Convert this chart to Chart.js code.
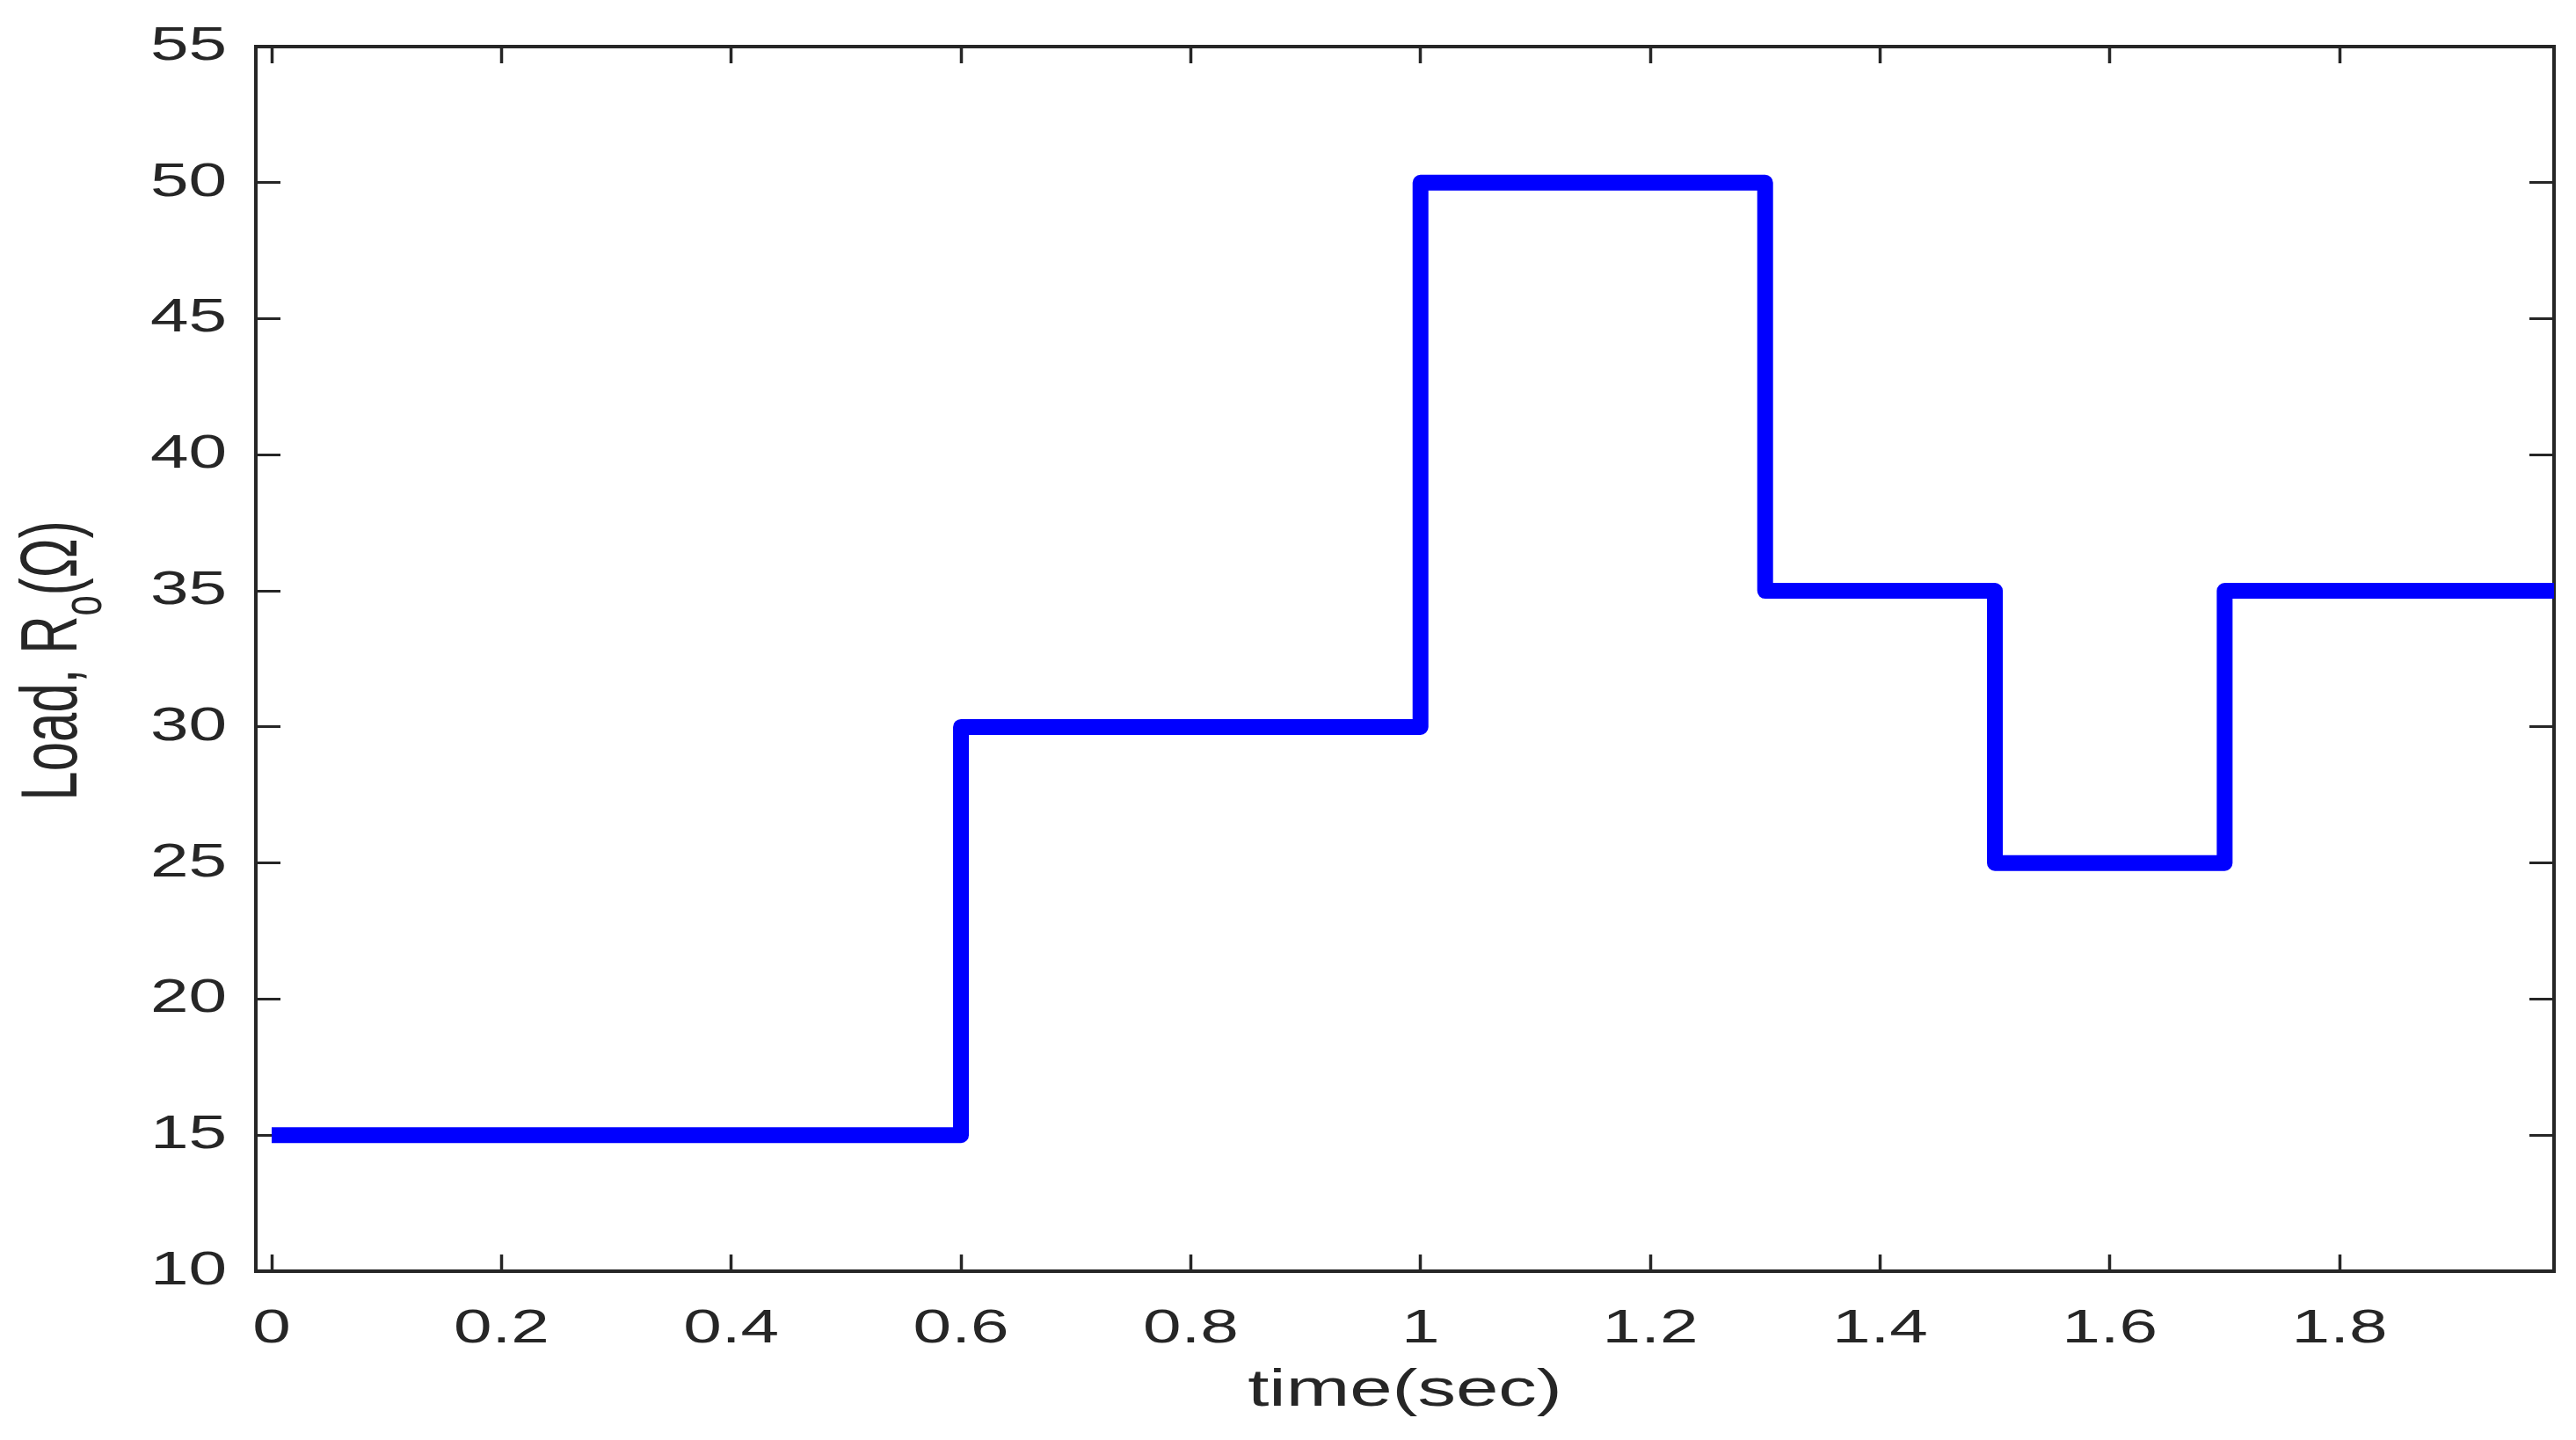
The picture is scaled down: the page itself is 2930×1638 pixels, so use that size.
<!DOCTYPE html>
<html>
<head>
<meta charset="utf-8">
<title>Load step profile</title>
<script src="https://cdn.jsdelivr.net/npm/chart.js@4.4.1/dist/chart.umd.min.js"></script>
<style>
  html, body { margin: 0; padding: 0; background: #ffffff; }
  #chart { display: block; }
</style>
</head>
<body>
<canvas id="chart" width="2930" height="1638"></canvas>
<script>
// --- data: load resistance steps ---
const switchTimes = [0, 0.6, 1.0, 1.3, 1.5, 1.7, 2.0];
const loadOhms    = [15, 30, 50, 35, 25, 35, 35];

const xTicks      = [0, 0.2, 0.4, 0.6, 0.8, 1.0, 1.2, 1.4, 1.6, 1.8];
const xTickLabels = ['0', '0.2', '0.4', '0.6', '0.8', '1', '1.2', '1.4', '1.6', '1.8'];
const yTicks      = [10, 15, 20, 25, 30, 35, 40, 45, 50, 55];
const yTickLabels = ['10', '15', '20', '25', '30', '35', '40', '45', '50', '55'];

const xLimits = [-0.0138, 1.9867];
const yLimits = [10, 55];

const INK = '#262626';
const FONT = "'Liberation Sans', Arial, Helvetica, sans-serif";
const STRETCH = 1.45;     // text in the figure is drawn wide
const Y_STRETCH = 1.5;    // rotated label is a bit wider still

Chart.defaults.font.family = FONT;
Chart.defaults.color = INK;

const canvas = document.getElementById('chart');
const ctx = canvas.getContext('2d');

// widen every glyph horizontally (screen x)
const plainFillText = ctx.fillText;
ctx.fillText = function (text, x, y) {
    this.save();
    this.translate(x, y);
    const m = this.getTransform();
    if (Math.abs(m.b) > Math.abs(m.a)) this.scale(1, STRETCH);
    else this.scale(STRETCH, 1);
    plainFillText.call(this, text, 0, 0);
    this.restore();
};

// y axis title with subscript
const yTitlePlugin = {
    id: 'yTitle',
    afterDraw(chart) {
        const c = chart.ctx;
        const area = chart.chartArea;
        const mainFont = '60px ' + FONT;
        const subFont = '42px ' + FONT;
        const parts = [
            { text: 'Load, R', font: mainFont, dy: 0 },
            { text: 'o', font: subFont, dy: 28 },
            { text: '(\u03A9)', font: mainFont, dy: 0 }
        ];
        c.save();
        let total = 0;
        parts.forEach(p => { c.font = p.font; p.w = c.measureText(p.text).width; total += p.w; });
        c.translate(87, (area.top + area.bottom) / 2 + 2);
        c.rotate(-Math.PI / 2);
        c.fillStyle = INK;
        c.textAlign = 'left';
        c.textBaseline = 'alphabetic';
        let pos = -total / 2;
        parts.forEach(p => {
            c.font = p.font;
            c.save();
            c.translate(pos, p.dy);
            c.scale(1, Y_STRETCH);
            plainFillText.call(c, p.text, 0, 0);
            c.restore();
            pos += p.w;
        });
        c.restore();
    }
};

function makeAxis(opts) {
    const horizontal = opts.position === 'top' || opts.position === 'bottom';
    return {
        type: 'linear',
        position: opts.position,
        min: opts.limits[0],
        max: opts.limits[1],
        z: 1,
        afterBuildTicks: s => { s.ticks = opts.ticks.map(v => ({ value: v })); },
        afterFit: s => {
            if (horizontal) s.height = opts.size; else s.width = opts.size;
            // keep the plot box fixed, labels may overhang it
            s.paddingTop = s.paddingBottom = s.paddingLeft = s.paddingRight = 0;
        },
        border: { display: true, color: INK, width: 4 },
        grid: {
            display: true,
            drawOnChartArea: false,
            drawTicks: true,
            tickLength: opts.tickLength,
            tickWidth: horizontal ? 3.5 : 3,
            tickColor: INK,
            color: INK,
            lineWidth: 1
        },
        ticks: {
            display: opts.labels !== null,
            autoSkip: false,
            maxRotation: 0,
            minRotation: 0,
            padding: opts.padding || 0,
            color: INK,
            font: { size: 54 },
            callback: (v, i) => opts.labels ? opts.labels[i] : ''
        },
        title: opts.title || { display: false }
    };
}

new Chart(ctx, {
    type: 'line',
    data: {
        datasets: [{
            data: switchTimes.map((t, i) => ({ x: t, y: loadOhms[i] })),
            stepped: 'before',
            borderColor: '#0000ff',
            backgroundColor: '#0000ff',
            borderWidth: 18,
            borderJoinStyle: 'round',
            borderCapStyle: 'butt',
            pointRadius: 0,
            fill: false,
            clip: 0,
            xAxisID: 'x',
            yAxisID: 'y'
        }]
    },
    options: {
        responsive: false,
        animation: false,
        devicePixelRatio: 1,
        layout: { padding: 0 },
        plugins: { legend: { display: false }, tooltip: { enabled: false } },
        scales: {
            x: makeAxis({
                position: 'bottom', limits: xLimits, ticks: xTicks, labels: xTickLabels,
                tickLength: -19, size: 192, padding: 53,
                title: {
                    display: true, text: 'time(sec)', color: INK,
                    font: { size: 60 }, padding: { top: 0, bottom: 20 }
                }
            }),
            x2: makeAxis({
                position: 'top', limits: xLimits, ticks: xTicks, labels: null,
                tickLength: -19, size: 53
            }),
            y: makeAxis({
                position: 'left', limits: yLimits, ticks: yTicks, labels: yTickLabels,
                tickLength: -28, size: 291, padding: 61
            }),
            y2: makeAxis({
                position: 'right', limits: yLimits, ticks: yTicks, labels: null,
                tickLength: -28, size: 25
            })
        }
    },
    plugins: [yTitlePlugin]
});
</script>
</body>
</html>
